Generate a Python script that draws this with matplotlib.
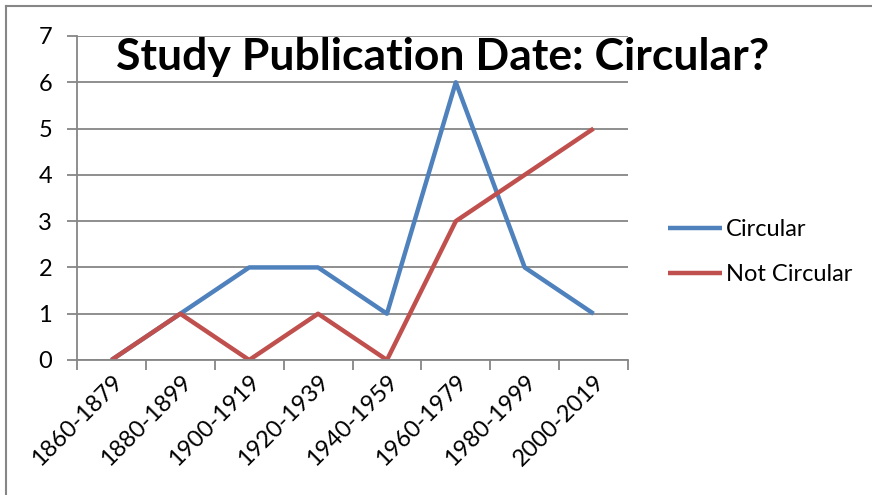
import matplotlib
matplotlib.use("Agg")
import matplotlib.pyplot as plt
from matplotlib.lines import Line2D
import numpy as np

categories = ["1860-1879", "1880-1899", "1900-1919", "1920-1939",
              "1940-1959", "1960-1979", "1980-1999", "2000-2019"]
circular = [0, 1, 2, 2, 1, 6, 2, 1]
not_circular = [0, 1, 0, 1, 0, 3, 4, 5]

plt.rcParams['font.family'] = ['Lato', 'DejaVu Sans']

fig = plt.figure(figsize=(8.72, 4.95), dpi=100)
ax = fig.add_axes([77 / 872, 1 - 360 / 495, (628 - 77) / 872, (360 - 36) / 495])

x = np.arange(len(categories))
ax.plot(x, circular, color="#4F81BD", lw=3.2, label="Circular", solid_capstyle="butt")
ax.plot(x, not_circular, color="#C0504D", lw=3.2, label="Not Circular", solid_capstyle="butt")

ax.set_xlim(-0.5, len(categories) - 0.5)
ax.set_ylim(0, 7)
ax.set_yticks(range(8))
ax.yaxis.grid(True, color="#868686", lw=1.3)
ax.set_axisbelow(True)

# category labels centered, tick marks on the boundaries
ax.set_xticks(x)
ax.set_xticklabels(categories, rotation=45, ha="right", va="top",
                   rotation_mode="anchor", fontsize=17)
ax.set_xticks(np.arange(-0.5, len(categories)), minor=True)
ax.tick_params(axis="x", which="major", length=0, pad=8)
ax.tick_params(axis="x", which="minor", length=7, width=1.3, color="#868686")
ax.tick_params(axis="y", length=7, width=1.3, color="#868686", labelsize=17, pad=11)

for s in ["top", "right"]:
    ax.spines[s].set_visible(False)
for s in ["left", "bottom"]:
    ax.spines[s].set_color("#868686")
    ax.spines[s].set_linewidth(1.3)

fig.text(443 / 872, 1 - 57 / 495, "Study Publication Date: Circular?",
         ha="center", va="center", fontsize=32, fontweight="bold")

ax.legend(loc="center left", bbox_to_anchor=(668 / 872, 1 - 252 / 495),
          bbox_transform=fig.transFigure, frameon=False, borderpad=0,
          borderaxespad=0, fontsize=17, handlelength=2.3, handletextpad=0.17,
          labelspacing=1.0)

# outer chart frame
fig.add_artist(Line2D([6 / 872, 6 / 872], [0, 1 - 6 / 495], color="#868686", lw=1.5))
fig.add_artist(Line2D([6 / 872, 1], [1 - 6 / 495, 1 - 6 / 495], color="#868686", lw=1.5))

fig.savefig("out.png", dpi=100)
